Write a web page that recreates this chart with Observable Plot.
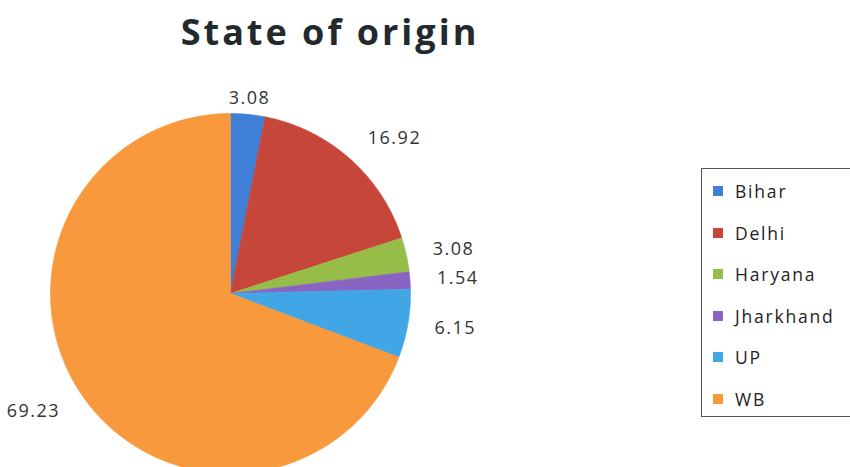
<!DOCTYPE html>
<html>
<head>
<meta charset="utf-8">
<script src="https://cdn.jsdelivr.net/npm/d3@7"></script>
<script src="https://cdn.jsdelivr.net/npm/@observablehq/plot@0.6"></script>
<style>
  html, body { margin: 0; padding: 0; background: #fff; }
  #wrap { position: relative; width: 850px; height: 467px; overflow: hidden; font-family: "Open Sans", sans-serif; }
  #title { position: absolute; left: 0; width: 660px; top: 7px; text-align: center; font-size: 36px; font-weight: 700; color: #222a2e; letter-spacing: 3px; }
  #legend { position: absolute; left: 701px; top: 168px; width: 160px; height: 249px; border: 1px solid #555; box-sizing: border-box; }
  .item { position: absolute; left: 11px; height: 20px; display: flex; align-items: center; font-size: 17.5px; color: #222; letter-spacing: 1.8px; }
  .sw { width: 10px; height: 10px; margin-right: 12px; }
  #chart { position: absolute; left: 0; top: 0; }
</style>
</head>
<body>
<div id="wrap">
  <div id="chart"></div>
  <div id="title">State of origin</div>
  <div id="legend"></div>
</div>
<script>
const states = ["Bihar", "Delhi", "Haryana", "Jharkhand", "UP", "WB"];
const values = [3.08, 16.92, 3.08, 1.54, 6.15, 69.23];
const colors = ["#3f80d6", "#c6473a", "#95bd48", "#8a64c2", "#41a6e6", "#f8993d"];

const W = 850, H = 467, R = 180, CX = 230, CY = 293;

const arcs = d3.pie().sort(null).value(d => d.value)(states.map((s, i) => ({state: s, value: values[i]})));

// polygon points for each slice (angles clockwise from top)
const pts = [];
for (const a of arcs) {
  const s = a.data.state;
  pts.push({state: s, x: 0, y: 0});
  const n = Math.max(2, Math.ceil((a.endAngle - a.startAngle) / 0.01));
  for (let k = 0; k <= n; k++) {
    const t = a.startAngle + (a.endAngle - a.startAngle) * k / n;
    pts.push({state: s, x: Math.sin(t), y: Math.cos(t)});
  }
  pts.push({state: s, x: 0, y: 0});
}

const labels = arcs.map(a => {
  const m = (a.startAngle + a.endAngle) / 2;
  const sx = Math.sin(m);
  const anchor = sx > 0.3 ? "start" : sx < -0.3 ? "end" : "middle";
  const r = anchor === "middle" ? 1.09 : 1.15;
  return {label: a.data.value.toFixed(2), x: r * sx, y: r * Math.cos(m), anchor};
});

const textOpts = {x: "x", y: "y", text: "label", fontSize: 18, fill: "#333", lineAnchor: "middle"};

const plot = Plot.plot({
  width: W, height: H,
  margin: 0,
  x: {domain: [-CX / R, (W - CX) / R], axis: null},
  y: {domain: [-(H - CY) / R, CY / R], axis: null},
  color: {domain: states, range: colors},
  style: {fontFamily: "'Open Sans', sans-serif", background: "transparent"},
  marks: [
    Plot.line(pts, {x: "x", y: "y", z: "state", fill: "state", stroke: "state", strokeWidth: 0.6, curve: "linear"}),
    ...["start", "middle", "end"].map(an =>
      Plot.text(labels.filter(d => d.anchor === an), {...textOpts, textAnchor: an}))
  ]
});
plot.querySelectorAll("text").forEach(t => t.style.letterSpacing = "1.5px");
document.getElementById("chart").appendChild(plot);

const legend = document.getElementById("legend");
states.forEach((s, i) => {
  const it = document.createElement("div");
  it.className = "item";
  it.style.top = (12 + i * 41.6) + "px";
  it.innerHTML = `<span class="sw" style="background:${colors[i]}"></span>${s}`;
  legend.appendChild(it);
});
</script>
</body>
</html>
